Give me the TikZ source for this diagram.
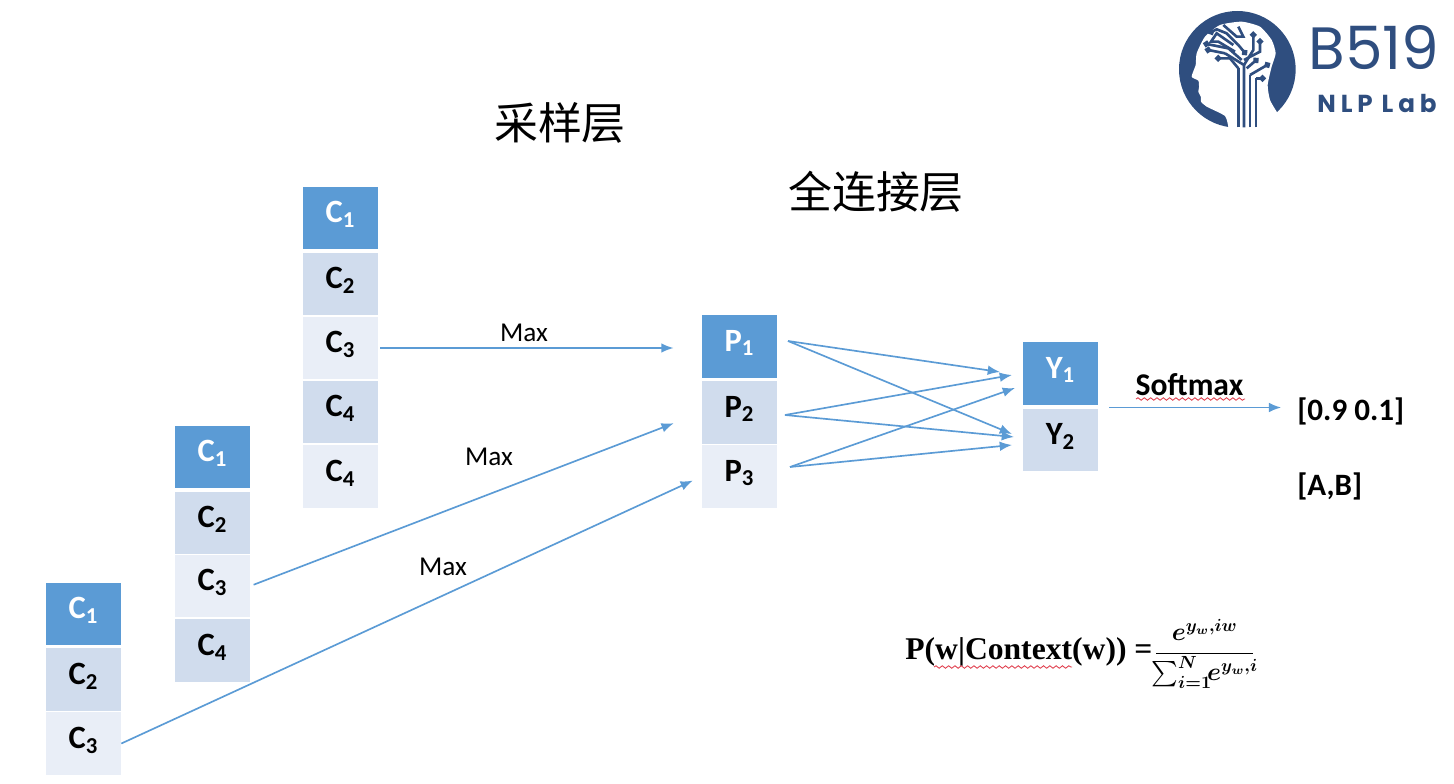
\documentclass[tikz,border=0pt]{standalone}
\usepackage{amsmath}
\usepackage{fontspec}
\setmainfont{Carlito}
\newfontfamily\cjk{Noto Sans CJK SC}
\newfontfamily\timesbold{Liberation Serif}[BoldFont={Liberation Serif Bold}]
\newfontfamily\logofont{Poppins}
\newfontfamily\logowide{Poppins}[LetterSpace=20]
\usetikzlibrary{arrows.meta,decorations.pathmorphing}
\definecolor{cellblue}{HTML}{5B9BD5}
\definecolor{cellmid}{HTML}{D0DCED}
\definecolor{celllight}{HTML}{E9EEF7}
\definecolor{logoblue}{HTML}{2F4E7F}
\definecolor{wavyred}{HTML}{E0404F}
\tikzset{
    cell/.style={minimum width=1.5cm, minimum height=1.25cm, inner sep=0pt, text depth=6.5pt,
                 font=\fontsize{18.5}{20}\selectfont\bfseries},
    celldark/.style={cell, fill=cellblue, text=white},
    cellmiddle/.style={cell, fill=cellmid},
    cellpale/.style={cell, fill=celllight},
    flow/.style={-{Latex[length=7pt,width=5.5pt]}, line width=0.95pt, draw=cellblue},
    maxnote/.style={font=\fontsize{15.5}{18}\selectfont},
    title/.style={font=\fontsize{25}{28}\selectfont\cjk},
    result/.style={anchor=west, inner sep=0pt, font=\fontsize{17.7}{20}\selectfont\bfseries},
    spell/.style={draw=wavyred, line width=0.5pt,
                  decorate, decoration={snake, amplitude=0.7pt, segment length=3.6pt}},
    trace/.style={draw=logoblue, line width=1.5pt},
    tracedot/.style={trace, -{Circle[length=3.6pt]}},
}
\begin{document}
\begin{tikzpicture}[x=0.02cm, y=-0.02cm]
    \useasboundingbox (0,0) rectangle (1454,784);

    \node[title] (sampletitle) at (560,123) {采样层};
    \node[title] (fulltitle) at (876,192) {全连接层};

    % three stacks of convolved values
    \foreach \n/\sub/\sty/\y in {1/1/celldark/218, 2/2/cellmiddle/284, 3/3/cellpale/348,
                                 4/4/cellmiddle/412, 5/4/cellpale/476.5} {
        \node[\sty] (topc\n) at (340.5,\y) {C$_{\mathbf{\sub}}$};
    }
    \foreach \n/\sty/\y in {1/celldark/457, 2/cellmiddle/523, 3/cellpale/586, 4/cellmiddle/650.5} {
        \node[\sty] (midc\n) at (212.5,\y) {C$_{\mathbf{\n}}$};
    }
    \foreach \n/\sty/\y in {1/celldark/614, 2/cellmiddle/679.5, 3/cellpale/743.5} {
        \node[\sty] (lowc\n) at (83.5,\y) {C$_{\mathbf{\n}}$};
    }

    \foreach \n/\sty/\y in {1/celldark/346.5, 2/cellmiddle/412.5, 3/cellpale/476.5} {
        \node[\sty] (pool\n) at (739.5,\y) {P$_{\mathbf{\n}}$};
    }
    \foreach \n/\sty/\y in {1/celldark/373.5, 2/cellmiddle/440} {
        \node[\sty] (out\n) at (1060.5,\y) {Y$_{\mathbf{\n}}$};
    }

    \draw[flow, shorten <=1pt, shorten >=16pt] (topc3.east) -- (topc3.east -| pool1.west);
    \draw[flow, shorten <=2pt, shorten >=17pt] (midc3.east) -- (pool2.west);
    \draw[flow, shorten >=5.5pt] (lowc3.east) -- (pool3.west);
    \node[maxnote] (max1) at (524,333) {Max};
    \node[maxnote] (max2) at (489,457) {Max};
    \node[maxnote] (max3) at (443,567) {Max};

    % free ends of the crossing arrows
    \coordinate (p1port) at (788,341);
    \coordinate (p2port) at (785,415);
    \coordinate (p3port) at (790,467);
    \coordinate (y1a) at (1000,372);
    \coordinate (y1b) at (1012,375);
    \coordinate (y1c) at (1015,388);
    \coordinate (y2a) at (1012,434);
    \coordinate (y2b) at (1014,437);
    \coordinate (y2c) at (1012,445);
    \foreach \from/\to in {p1port/y1a, p1port/y2a, p2port/y1b, p2port/y2b, p3port/y1c, p3port/y2c} {
        \draw[flow] (\from) -- (\to);
    }

    \node[result] (softvals) at (1297,411) {[0.9 0.1]};
    \node[result] (softclass) at (1297,486) {[A,B]};
    \coordinate (softstart) at (1109,407.5);
    \draw[flow, shorten >=9pt] (softstart) -- (softstart -| softvals.west);
    \node[inner sep=0pt, font=\fontsize{18}{20}\selectfont\bfseries] (softmax) at (1189.5,384.5) {Softmax};
    \draw[spell] (1136,399) -- (1245,399);

    \node[inner sep=0pt, anchor=west, font=\fontsize{18}{20}\selectfont\timesbold\bfseries\boldmath] (formula) at (905,654)
        {P(w|Context(w)) =\hspace{1pt}{\fontsize{14}{16}\selectfont$\dfrac{e^{y_{w},iw}}{\textstyle\!\sum_{i=1}^{N}\!\!e^{y_{w},i}\!}$}};
    \draw[spell] (934,667) -- (1072,667);

    % logo, in crop pixels
    \begin{scope}[shift={(1175,10)}, x=0.00667cm, y=-0.00667cm]
        \fill[logoblue] (187,178) circle [radius=175];
        \fill[white] plot[smooth, tension=0.35] coordinates {(160,352) (150,318) (95,290) (78,275)
            (78,262) (70,245) (72,232) (70,212) (50,200) (62,165) (65,130) (90,80) (135,45) (200,35)
            (255,50) (290,90) (302,130) (290,170) (278,225) (285,270) (305,305)} -- (320,370) -- (160,370) -- cycle;
        \draw[trace] (190,352) -- (190,175);
        \draw[tracedot] (190,175) -- (165,145) -- (120,145);
        \draw[trace] (207,352) -- (207,165) -- (150,130);
        \draw[tracedot] (150,130) -- (90,118);
        \draw[trace] (225,352) -- (225,195);
        \draw[tracedot] (225,195) -- (285,160);
        \draw[trace] (243,352) -- (243,205);
        \draw[tracedot] (243,205) -- (272,205);
        \draw[tracedot] (207,165) -- (235,120) -- (235,65);
        \draw[tracedot] (207,150) -- (255,125) -- (255,85);
        \draw[tracedot] (215,175) -- (250,145);
        \draw[tracedot] (200,150) -- (160,115) -- (85,100);
        \draw[trace] (180,125) -- (130,95) -- (108,95) -- (125,70) -- (175,105);
        \draw[trace] (145,45) -- (185,80) -- (205,80) -- (190,50);
        \draw[tracedot] (190,105) -- (155,70) -- (125,58) -- (100,70);
        \draw[tracedot] (190,105) -- (215,135);
    \end{scope}
    \node[inner sep=0pt, text=logoblue, font=\fontsize{34}{36}\selectfont\logofont] (logonum) at (1374,48) {B519};
    \node[inner sep=0pt, text=logoblue, font=\fontsize{14}{16}\selectfont\logowide\bfseries] (logolab) at (1377,103) {NLP\hspace{5pt}Lab};
\end{tikzpicture}
\end{document}
